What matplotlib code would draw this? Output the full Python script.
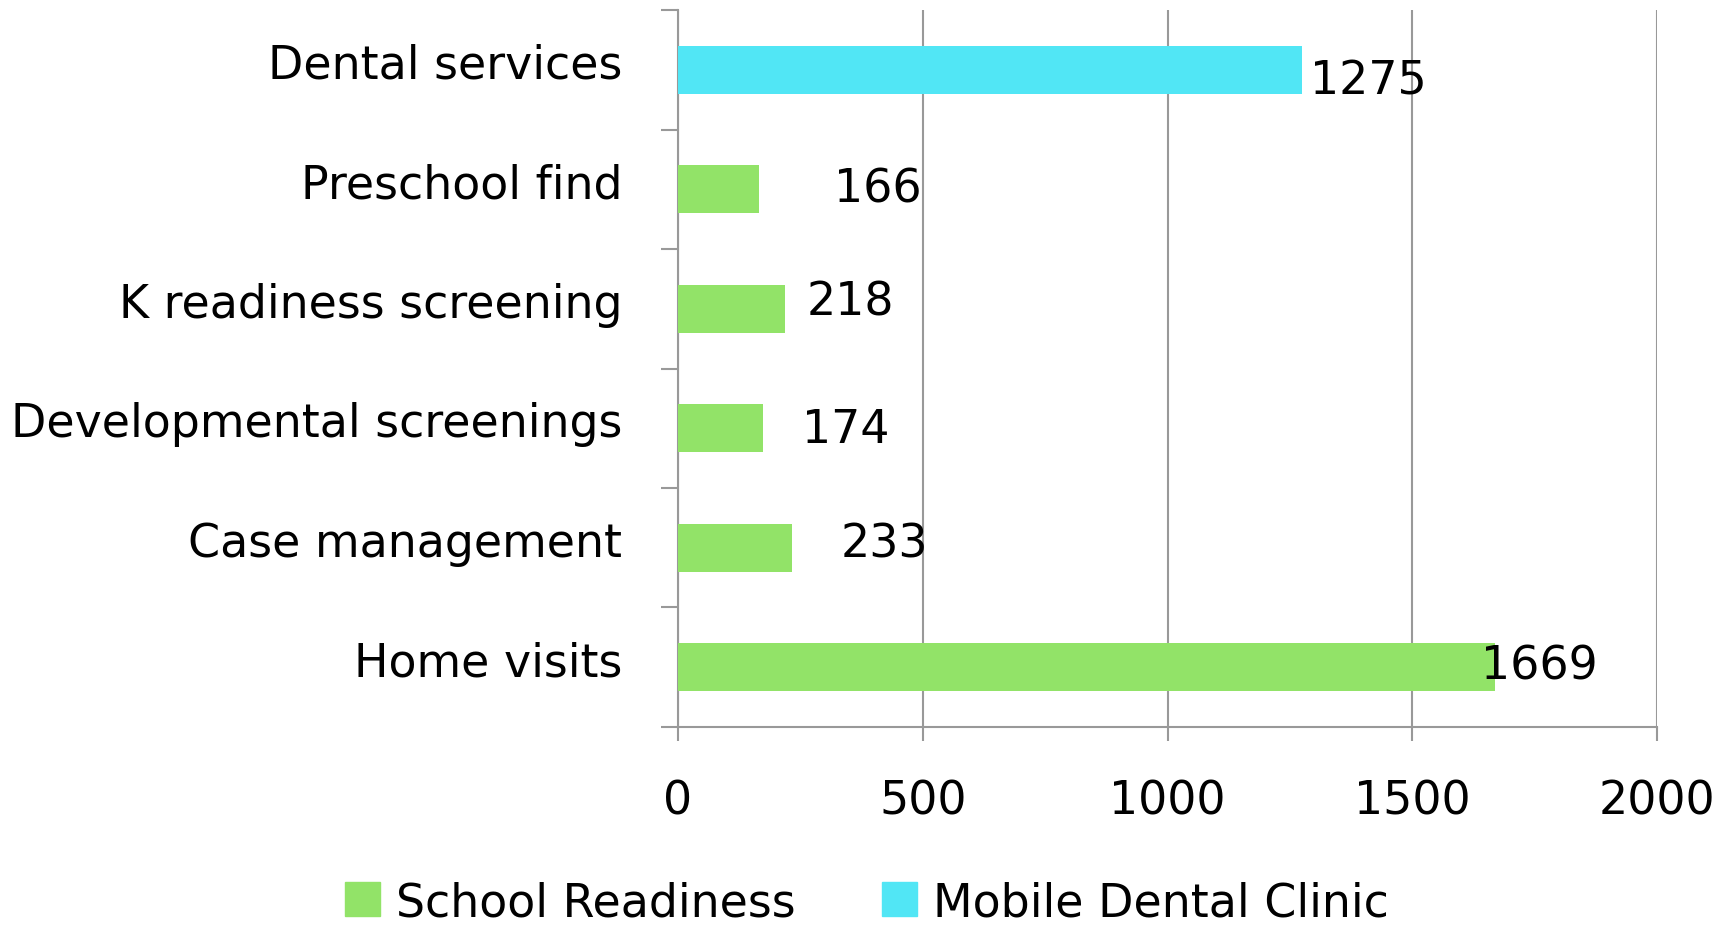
import matplotlib.pyplot as plt
from matplotlib.patches import Patch
from matplotlib.transforms import offset_copy, ScaledTranslation

categories = [
    "Dental services",
    "Preschool find",
    "K readiness screening",
    "Developmental screenings",
    "Case management",
    "Home visits",
]
values = [1275, 166, 218, 174, 233, 1669]
series = [
    "Mobile Dental Clinic",
    "School Readiness",
    "School Readiness",
    "School Readiness",
    "School Readiness",
    "School Readiness",
]
legend_order = ["School Readiness", "Mobile Dental Clinic"]
x_ticks = [0, 500, 1000, 1500, 2000]

colors = {"School Readiness": "#92E368", "Mobile Dental Clinic": "#51E6F5"}
# label nudges (points) so the labels sit the way they do in the original
label_dx = [6, 54, 16, 28, 35, -10]
label_dy = [-8, 0, 5, -1, 3, 1]

plt.rcParams["font.family"] = "DejaVu Sans"
FS = 33

fig = plt.figure(figsize=(17.34, 9.29), dpi=100)
ax = fig.add_axes([0.391, 0.2164, 0.5646, 0.7716])

n = len(categories)
ypos = list(range(n))
ax.barh(ypos, values, height=0.4,
        color=[colors[s] for s in series], zorder=3)

for i, v in enumerate(values):
    tr = offset_copy(ax.transData, fig=fig, x=label_dx[i], y=label_dy[i], units="points")
    ax.text(v, i, str(v), transform=tr, ha="left", va="center", fontsize=FS, zorder=4)

ax.set_xlim(0, 2000)
ax.set_ylim(n - 0.5, -0.5)
ax.set_xticks(x_ticks)
ax.set_xticklabels([str(t) for t in x_ticks], fontsize=FS)

# category boundaries carry the tick marks, centers carry the labels
ax.set_yticks([i - 0.5 for i in range(n + 1)])
ax.set_yticklabels([])
ax.set_yticks(ypos, minor=True)
ax.set_yticklabels(categories, minor=True, fontsize=FS)
ax.tick_params(axis="y", which="major", length=12, width=1.5, color="#999999")
ax.tick_params(axis="y", which="minor", length=0, pad=40)
ax.tick_params(axis="x", length=10, width=1.5, color="#999999", pad=27)
shift = ScaledTranslation(0, 7 / 72, fig.dpi_scale_trans)
for lab in ax.get_yticklabels(minor=True):
    lab.set_transform(lab.get_transform() + shift)

ax.grid(axis="x", color="#999999", linewidth=1.5, zorder=0)
for s in ["top", "right"]:
    ax.spines[s].set_visible(False)
for s in ["left", "bottom"]:
    ax.spines[s].set_color("#999999")
    ax.spines[s].set_linewidth(1.5)
ax.spines["bottom"].set_zorder(5)

handles = [Patch(color=colors[s], label=s) for s in legend_order]
fig.legend(handles=handles, loc="lower center", bbox_to_anchor=(0.5, 0.003),
           ncol=2, frameon=False, fontsize=FS, handlelength=0.75,
           handleheight=0.75, handletextpad=0.35, columnspacing=1.9,
           borderpad=0, borderaxespad=0)

fig.savefig("out.png", dpi=100)
